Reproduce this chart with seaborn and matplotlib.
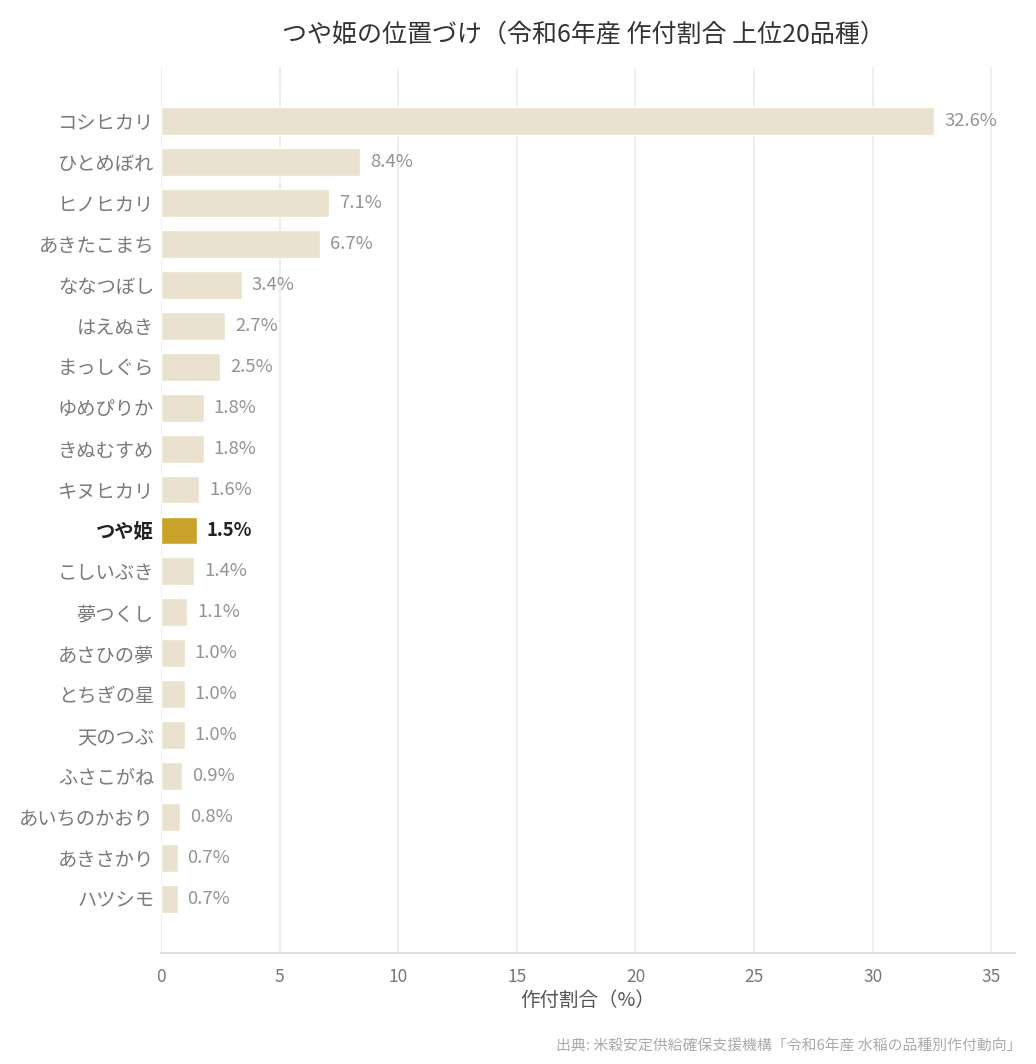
import matplotlib
matplotlib.use("Agg")
import matplotlib.pyplot as plt
import seaborn as sns
import pandas as pd

varieties = ["コシヒカリ", "ひとめぼれ", "ヒノヒカリ", "あきたこまち", "ななつぼし",
             "はえぬき", "まっしぐら", "ゆめぴりか", "きぬむすめ", "キヌヒカリ",
             "つや姫", "こしいぶき", "夢つくし", "あさひの夢", "とちぎの星",
             "天のつぶ", "ふさこがね", "あいちのかおり", "あきさかり", "ハツシモ"]
shares = [32.6, 8.4, 7.1, 6.7, 3.4, 2.7, 2.5, 1.8, 1.8, 1.6,
          1.5, 1.4, 1.1, 1.0, 1.0, 1.0, 0.9, 0.8, 0.7, 0.7]
highlight = "つや姫"
xticks = [0, 5, 10, 15, 20, 25, 30, 35]

sns.set_theme(style="white")
plt.rcParams['font.family'] = ['Noto Sans CJK JP', 'DejaVu Sans']

df = pd.DataFrame({"品種": varieties, "割合": shares})
df["hl"] = ["hl" if v == highlight else "base" for v in varieties]

fig = plt.figure(figsize=(10.36, 10.64), dpi=100)
ax = fig.add_axes([161/1036, 1 - 953/1064, (1015-161)/1036, (953-67)/1064])

sns.barplot(data=df, x="割合", y="品種", hue="hl", order=varieties,
            palette={"hl": "#C9A22A", "base": "#EAE2CF"}, dodge=False,
            saturation=1, width=0.68, legend=False, ax=ax, zorder=3)

ax.set_xlim(0, 36)
ax.set_ylim(len(varieties) - 1 + 1.33, -1.33)
ax.set_xticks(xticks)
ax.set_xticklabels([str(t) for t in xticks], fontsize=12.5, color="#777777")
ax.grid(axis="x", color="#EBEBEB", linewidth=1.2, zorder=0)
ax.set_axisbelow(True)
for s in ["top", "right", "left"]:
    ax.spines[s].set_visible(False)
ax.spines["bottom"].set_color("#D9D9D9")
ax.spines["bottom"].set_linewidth(1.2)
ax.tick_params(axis="x", length=5, color="#AAAAAA", width=1, pad=6)
ax.tick_params(axis="y", length=0, pad=5)
ax.set_ylabel("")
ax.set_xlabel("作付割合（%）", fontsize=14, color="#555555", labelpad=3)

for lbl in ax.get_yticklabels():
    if lbl.get_text() == highlight:
        lbl.set_fontweight("bold")
        lbl.set_color("#222222")
    else:
        lbl.set_color("#7A7A7A")
    lbl.set_fontsize(13.9)

for i, (v, s) in enumerate(zip(varieties, shares)):
    if v == highlight:
        ax.text(s + 0.42, i, f"{s:.1f}%", va="center", ha="left", fontsize=13.3,
                fontweight="bold", color="#222222")
    else:
        ax.text(s + 0.42, i, f"{s:.1f}%", va="center", ha="left", fontsize=13.3,
                color="#939393")

fig.text(583/1036, 1 - 35/1064, "つや姫の位置づけ（令和6年産 作付割合 上位20品種）",
         ha="center", va="center", fontsize=18, color="#333333")
fig.text(1021/1036, 1 - 1046/1064, "出典: 米穀安定供給確保支援機構「令和6年産 水稲の品種別作付動向」",
         ha="right", va="center", fontsize=10.7, color="#AAAAAA")

fig.savefig("out.png", dpi=100)
